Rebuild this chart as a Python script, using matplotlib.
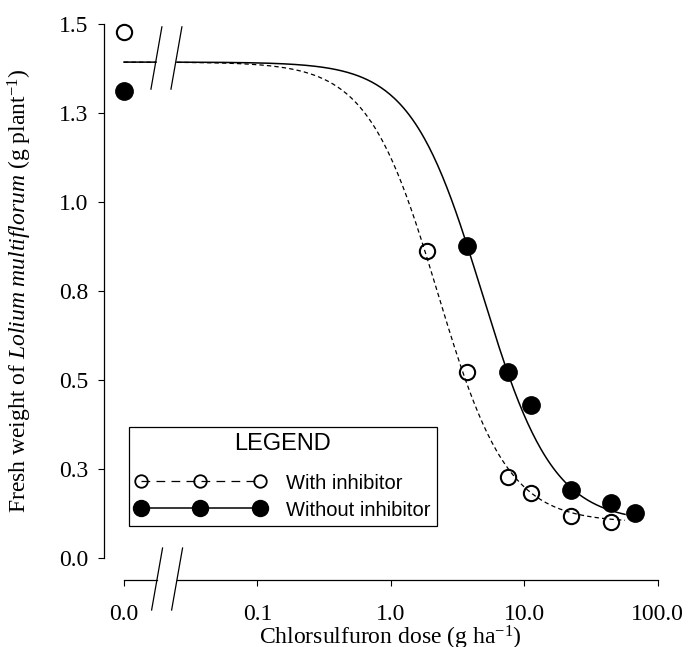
import numpy as np
import matplotlib
matplotlib.use("Agg")
import matplotlib.pyplot as plt
from matplotlib.lines import Line2D
from matplotlib.ticker import NullLocator, FixedLocator

plt.rcParams['font.family'] = ['Liberation Serif', 'DejaVu Serif']
plt.rcParams['mathtext.fontset'] = 'custom'
plt.rcParams['mathtext.rm'] = 'Liberation Serif'
plt.rcParams['mathtext.it'] = 'Liberation Serif:italic'

# ---------------- data ----------------
doses_with = [0, 1.875, 3.75, 7.5, 11.25, 22.5, 45]
weight_with = [1.478, 0.862, 0.522, 0.228, 0.183, 0.118, 0.101]
doses_without = [0, 3.75, 7.5, 11.25, 22.5, 45, 67.5]
weight_without = [1.312, 0.876, 0.522, 0.43, 0.191, 0.154, 0.126]

# log-logistic fits (lower c, upper d, ED50 e, slope b)
fit_with = dict(c=0.10, d=1.393, e=2.24, b=1.66)
fit_without = dict(c=0.10, d=1.393, e=4.81, b=1.63)

x_ticks = [0.0, 0.1, 1.0, 10.0, 100.0]
x_tick_labels = ["0.0", "0.1", "1.0", "10.0", "100.0"]
y_ticks = [0.0, 0.25, 0.5, 0.75, 1.0, 1.25, 1.5]
y_tick_labels = ["0.0", "0.3", "0.5", "0.8", "1.0", "1.3", "1.5"]

ZERO_POS = 0.01  # where zero dose is drawn on the log axis


def xpos(v):
    v = np.asarray(v, dtype=float)
    return np.where(v <= 0, ZERO_POS, v)


def loglogistic(x, c, d, e, b):
    return c + (d - c) / (1.0 + (x / e) ** b)


fig = plt.figure(figsize=(6.88, 6.47), dpi=100)
ax = fig.add_axes([124 / 688, 89 / 647, 533.6 / 688, 534 / 647])
ax.set_xscale('log')
ax.set_xlim(0.01, 100)
ax.set_ylim(0, 1.5)

# curves with gap for the axis break
seg1 = np.logspace(-2, -1.76, 20)
seg2 = np.logspace(-1.603, np.log10(57), 300)
for seg in (seg1, seg2):
    ax.plot(seg, loglogistic(seg, **fit_with), color='black', lw=0.9,
            ls=(0, (3.5, 2.5)), clip_on=False, zorder=2)
    ax.plot(seg, loglogistic(seg, **fit_without), color='black', lw=1.1,
            clip_on=False, zorder=2)

ax.plot(xpos(doses_with), weight_with, ls='none', marker='o', ms=11,
        mfc='none', mec='black', mew=1.5, clip_on=False, zorder=3)
ax.plot(xpos(doses_without), weight_without, ls='none', marker='o', ms=12.5,
        mfc='black', mec='black', clip_on=False, zorder=3)

# top break marks on the curves
dx = 0.041
for cx in (-1.757, -1.607):
    ax.plot([10 ** (cx - dx), 10 ** (cx + dx)], [1.317, 1.492], color='black',
            lw=0.9, clip_on=False, zorder=4)

# spines
ax.spines['top'].set_visible(False)
ax.spines['right'].set_visible(False)
ax.spines['left'].set_position(('outward', 20 * 0.72))
ax.spines['bottom'].set_position(('outward', 22 * 0.72))
ax.spines['bottom'].set_visible(False)
ax.spines['left'].set_linewidth(0.9)

# custom bottom axis line with a break
xt = ax.get_xaxis_transform()
yb = -22 / 534
ax.plot([0.01, 10 ** -1.752], [yb, yb], transform=xt, color='black', lw=0.9,
        clip_on=False)
ax.plot([10 ** -1.602, 100], [yb, yb], transform=xt, color='black', lw=0.9,
        clip_on=False)
for cx in (-1.752, -1.602):
    ax.plot([10 ** (cx - dx), 10 ** (cx + dx)], [-0.0974, 0.0187], transform=xt,
            color='black', lw=0.9, clip_on=False)

ax.xaxis.set_major_locator(FixedLocator(list(xpos(x_ticks))))
ax.xaxis.set_minor_locator(NullLocator())
ax.set_xticklabels(x_tick_labels)
ax.set_yticks(y_ticks)
ax.set_yticklabels(y_tick_labels)
ax.tick_params(axis='both', direction='out', length=4.3, width=0.8,
               labelsize=17, colors='black')
ax.tick_params(axis='x', pad=13)
ax.tick_params(axis='y', pad=7)

ax.set_xlabel(r"Chlorsulfuron dose (g ha$^{\mathrm{-1}}$)", fontsize=17)
ax.set_ylabel(r"Fresh weight of $\mathit{Lolium\ multiflorum}$ (g plant$^{\mathrm{-1}}$)",
              fontsize=17)
ax.xaxis.set_label_coords(0.5, -0.124)
ax.yaxis.set_label_coords(-0.169, 0.5)

# legend
h_with = Line2D([], [], color='black', lw=0.9, ls=(0, (7, 5)), marker='o', ms=9,
                mfc='none', mec='black', mew=1.3)
h_without = Line2D([], [], color='black', lw=1.1, marker='o', ms=11.5,
                   mfc='black', mec='black')
leg = ax.legend([h_with, h_without], ["With inhibitor", "Without inhibitor"],
                title="LEGEND", numpoints=3, handlelength=6.5, handletextpad=1.0,
                loc='upper left', bbox_to_anchor=(129 / 688, 1 - 427 / 647),
                bbox_transform=fig.transFigure, borderaxespad=0,
                fancybox=False, frameon=True, framealpha=1, edgecolor='black',
                prop={'family': 'Liberation Sans', 'size': 14.5},
                labelspacing=0.35, borderpad=0.3, handleheight=1.0)
leg.get_title().set_fontfamily('Liberation Sans')
leg.get_title().set_fontsize(17)
leg.get_frame().set_linewidth(0.9)
leg._legend_box.sep = 13.3

fig.savefig("out.png", dpi=100)
